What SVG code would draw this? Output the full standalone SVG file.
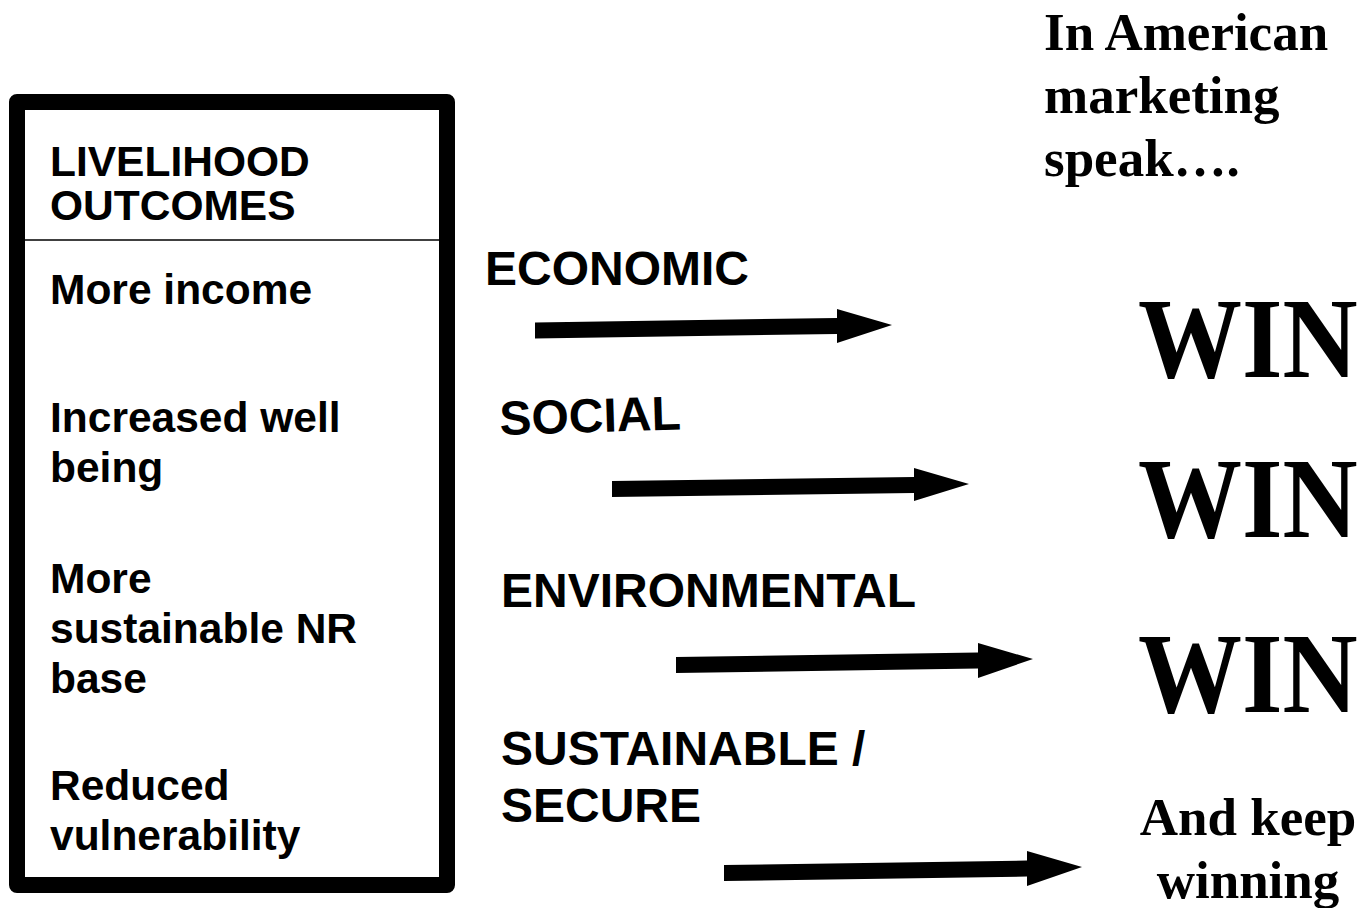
<svg xmlns="http://www.w3.org/2000/svg" width="1363" height="908" viewBox="0 0 1363 908">
<style>
.sans{font-family:"Liberation Sans",Arial,sans-serif;font-weight:bold;fill:#000}
.box{font-size:42.5px}
.mid{font-size:48px}
.serif{font-family:"Liberation Serif","Times New Roman",serif;font-weight:bold;fill:#000}
.hd{font-size:53px}
.win{font-size:104px}
.arrow{fill:#000}
</style>
<rect width="1363" height="908" fill="#fff"/>
<g id="outcomes-box">
<rect x="17" y="102" width="430" height="783" fill="#fff" stroke="#000" stroke-width="16" stroke-linejoin="round"/>
<line x1="25" y1="240" x2="440" y2="240" stroke="#000" stroke-width="1.5"/>
<text class="sans box" x="50" y="176">LIVELIHOOD</text>
<text class="sans box" x="50" y="220">OUTCOMES</text>
<text class="sans box" x="50" y="304">More income</text>
<text class="sans box" x="50" y="432">Increased well</text>
<text class="sans box" x="50" y="482">being</text>
<text class="sans box" x="50" y="593">More</text>
<text class="sans box" x="50" y="643">sustainable NR</text>
<text class="sans box" x="50" y="693">base</text>
<text class="sans box" x="50" y="800">Reduced</text>
<text class="sans box" x="50" y="850">vulnerability</text>
</g>
<g id="labels">
<text class="sans mid" x="485" y="285">ECONOMIC</text>
<text class="sans mid" x="500" y="435" transform="rotate(-1.8 500 435)">SOCIAL</text>
<text class="sans mid" x="501" y="607">ENVIRONMENTAL</text>
<text class="sans mid" x="501" y="765">SUSTAINABLE /</text>
<text class="sans mid" x="501" y="822">SECURE</text>
</g>
<g id="connectors">
<polygon class="arrow" points="535,322.5 837,318 837,309 892,325 837,343 837,334 535,338.5"/>
<polygon class="arrow" points="612,481 914,477 914,468 969,484 914,501 914,493 612,497"/>
<polygon class="arrow" points="676,657 978,652.5 978,643 1033,659 978,678 978,668.5 676,673"/>
<polygon class="arrow" points="724,865 1027,860.5 1027,851 1082,867 1027,886 1027,876.5 724,881"/>
</g>
<g id="marketing">
<text class="serif hd" x="1044" y="50">In American</text>
<text class="serif hd" x="1044" y="113">marketing</text>
<text class="serif hd" x="1044" y="176">speak….</text>
</g>
<g id="wins">
<text class="serif win" transform="translate(1138 377) scale(1 1.09)">WIN</text>
<text class="serif win" transform="translate(1138 537) scale(1 1.09)">WIN</text>
<text class="serif win" transform="translate(1138 712) scale(1 1.09)">WIN</text>
</g>
<g id="keep-winning">
<text class="serif hd" x="1248" y="835" text-anchor="middle">And keep</text>
<text class="serif hd" x="1248" y="898" text-anchor="middle">winning</text>
</g>
</svg>
